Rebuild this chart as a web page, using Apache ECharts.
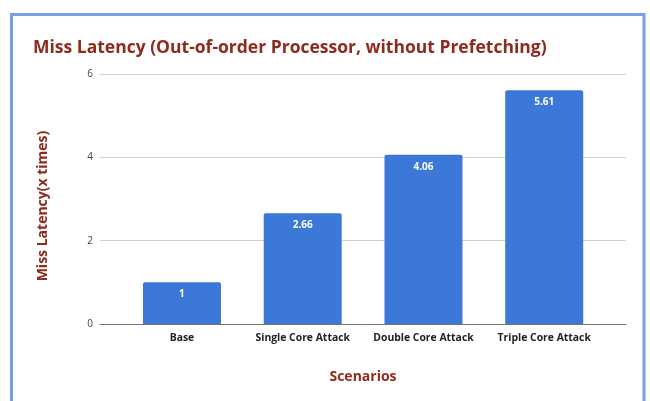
<!DOCTYPE html>
<html>
<head>
<meta charset="utf-8">
<script src="https://cdn.jsdelivr.net/npm/echarts@6/dist/echarts.min.js"></script>
<style>
  html, body { margin: 0; padding: 0; background: #fff; }
  #chart { width: 650px; height: 401px; }
</style>
</head>
<body>
<div id="chart"></div>
<script>
// data
const scenarios = ['Base', 'Single Core Attack', 'Double Core Attack', 'Triple Core Attack']
const missLatency = [1, 2.66, 4.06, 5.61]
const yTicks = [0, 2, 4, 6]

const FONT = '"Open Sans", "Noto Sans", sans-serif'
const RED = '#8e2a1e'
const BLUE = '#3c78d8'

const chart = echarts.init(document.getElementById('chart'))

// two grids: the outer one carries the gridlines and baseline,
// the inner one holds the bars (the bars sit inset from the gridline ends)
const option = {
  backgroundColor: '#fff',
  textStyle: { fontFamily: FONT },
  title: {
    text: 'Miss Latency (Out-of-order Processor, without Prefetching)',
    left: 28,
    top: 34,
    textStyle: { fontFamily: FONT, fontSize: 17.5, fontWeight: 'bold', color: RED }
  },
  graphic: [
    {
      type: 'rect',
      silent: true,
      shape: { x: 11.5, y: 14.5, width: 632.5, height: 400 },
      style: { fill: 'none', stroke: '#78a0e4', lineWidth: 3 }
    }
  ],
  grid: [
    { left: 100, right: 24, top: 74, bottom: 77 },
    { left: 121.6, right: 45.4, top: 74, bottom: 77 }
  ],
  xAxis: [
    {
      gridIndex: 0,
      type: 'category',
      data: [''],
      axisLine: { show: true, lineStyle: { color: '#777', width: 1 } },
      axisTick: { show: false },
      axisLabel: { show: false },
      name: 'Scenarios',
      nameLocation: 'middle',
      nameGap: 46,
      nameTextStyle: { fontFamily: FONT, fontSize: 14, fontWeight: 'bold', color: RED }
    },
    {
      gridIndex: 1,
      type: 'category',
      data: scenarios,
      axisLine: { show: false },
      axisTick: { show: false },
      axisLabel: {
        interval: 0,
        margin: 9,
        fontFamily: FONT,
        fontSize: 10.4,
        fontWeight: 'bold',
        color: '#222'
      }
    }
  ],
  yAxis: [
    {
      gridIndex: 0,
      type: 'value',
      min: yTicks[0],
      max: yTicks[yTicks.length - 1],
      interval: yTicks[1] - yTicks[0],
      axisLine: { show: false },
      axisTick: { show: false },
      axisLabel: { margin: 7, fontFamily: FONT, fontSize: 10, color: '#444' },
      splitLine: { lineStyle: { color: '#d0d0d0', width: 1 } },
      name: 'Miss Latency(x times)',
      nameLocation: 'middle',
      nameGap: 50,
      nameTextStyle: {
        fontFamily: FONT,
        fontSize: 14,
        fontWeight: 'bold',
        color: RED,
        padding: [0, 14, 0, 0]
      }
    },
    {
      gridIndex: 1,
      type: 'value',
      min: yTicks[0],
      max: yTicks[yTicks.length - 1],
      show: false
    }
  ],
  series: [
    {
      type: 'bar',
      xAxisIndex: 1,
      yAxisIndex: 1,
      data: missLatency,
      barWidth: 78,
      itemStyle: { color: BLUE, borderRadius: [2, 2, 0, 0] },
      label: {
        show: true,
        position: 'insideTop',
        distance: 7,
        fontFamily: FONT,
        fontSize: 10,
        fontWeight: 'bold',
        color: '#fff'
      }
    }
  ]
}

chart.setOption(option)
</script>
</body>
</html>
